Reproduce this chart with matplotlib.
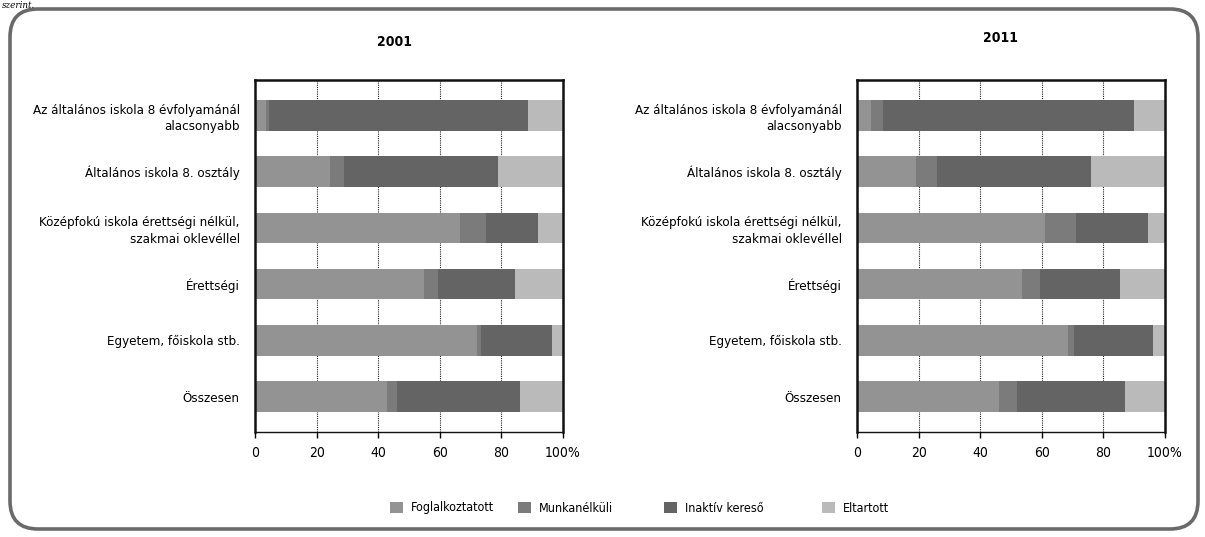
import matplotlib
matplotlib.use("Agg")
import matplotlib.pyplot as plt
from matplotlib.patches import FancyBboxPatch, Patch
from matplotlib.transforms import IdentityTransform
import numpy as np

categories = [
    "Az általános iskola 8 évfolyamánál\nalacsonyabb",
    "Általános iskola 8. osztály",
    "Középfokú iskola érettségi nélkül,\nszakmai oklevéllel",
    "Érettségi",
    "Egyetem, főiskola stb.",
    "Összesen",
]
series_names = ["Foglalkoztatott", "Munkanélküli", "Inaktív kereső", "Eltartott"]

fogl_2001 = [3.5, 24.5, 66.5, 55.0, 72.0, 43.0]
munk_2001 = [1.0, 4.5, 8.5, 4.5, 1.5, 3.0]
inak_2001 = [84.0, 50.0, 17.0, 25.0, 23.0, 40.0]
elta_2001 = [11.5, 21.0, 8.0, 15.5, 3.5, 14.0]

fogl_2011 = [4.5, 19.0, 61.0, 53.5, 68.5, 46.0]
munk_2011 = [4.0, 7.0, 10.0, 6.0, 2.0, 6.0]
inak_2011 = [81.5, 50.0, 23.5, 26.0, 25.5, 35.0]
elta_2011 = [10.0, 24.0, 5.5, 14.5, 4.0, 13.0]

years = ["2001", "2011"]
xticks = [0, 20, 40, 60, 80, 100]
xticklabels = ["0", "20", "40", "60", "80", "100%"]

colors = ["#939393", "#7b7b7b", "#646464", "#bababa"]
plt.rcParams["font.family"] = ["DejaVu Sans"]
plt.rcParams["font.stretch"] = "condensed"

fig = plt.figure(figsize=(12.05, 5.37), dpi=100)
W, H = 1205, 537

# outer rounded frame (pixel coordinates, origin bottom-left)
frame = FancyBboxPatch((10, 8), 1188, 520,
                       boxstyle="round,pad=0,rounding_size=28",
                       transform=IdentityTransform(), fill=False,
                       edgecolor="#6a6a6a", linewidth=2.6)
fig.patches.append(frame)
fig.text(2 / W, 1 - 1 / H, "szerint.", fontsize=7, style="italic",
         family="DejaVu Serif", va="top", ha="left")

data = [
    (fogl_2001, munk_2001, inak_2001, elta_2001),
    (fogl_2011, munk_2011, inak_2011, elta_2011),
]
ax_lefts = [255, 857]
title_x = [395, 1000]
title_y = [42, 38]

for k in range(2):
    ax = fig.add_axes([ax_lefts[k] / W, 1 - 432 / H, 308 / W, (432 - 80) / H])
    y = np.arange(len(categories))
    left = np.zeros(len(categories))
    for s, vals in enumerate(data[k]):
        ax.barh(y, vals, left=left, height=0.54, color=colors[s], zorder=2,
                edgecolor="none")
        left = left + np.array(vals)
    ax.set_xlim(0, 100)
    ax.set_ylim(len(categories) - 1 + 0.63, -0.63)
    ax.set_yticks(y)
    ax.set_yticklabels(categories, fontsize=9.5, linespacing=1.35,
                       fontstretch="condensed")
    ax.tick_params(axis="y", length=0, pad=11)
    ax.set_xticks(xticks)
    ax.set_xticklabels(xticklabels, fontsize=10, fontstretch="condensed")
    ax.tick_params(axis="x", length=4, width=1, pad=6, direction="out")
    for lab in ax.get_yticklabels():
        lab.set_multialignment("right")
    for gx in xticks[1:-1]:
        ax.axvline(gx, color="#222222", linewidth=0.8, linestyle=(0, (1, 1)), zorder=1)
    for sp in ax.spines.values():
        sp.set_linewidth(1.8)
        sp.set_color("#111111")
    ax.spines["bottom"].set_linewidth(1.0)
    fig.text(title_x[k] / W, 1 - title_y[k] / H, years[k], fontsize=10,
             ha="center", va="center", fontweight="bold", fontstretch="condensed")

legend_x = [390, 518, 664, 822]
for c, name, lx in zip(colors, series_names, legend_x):
    leg = fig.legend([Patch(facecolor=c, edgecolor="none")], [name],
                     loc="center left", bbox_to_anchor=(lx / W, 1 - 508 / H),
                     frameon=False, prop={"size": 9, "stretch": "condensed"},
                     handlelength=1.0, handleheight=1.0, handletextpad=0.7,
                     borderpad=0, borderaxespad=0)

fig.savefig("out.png", dpi=100)
